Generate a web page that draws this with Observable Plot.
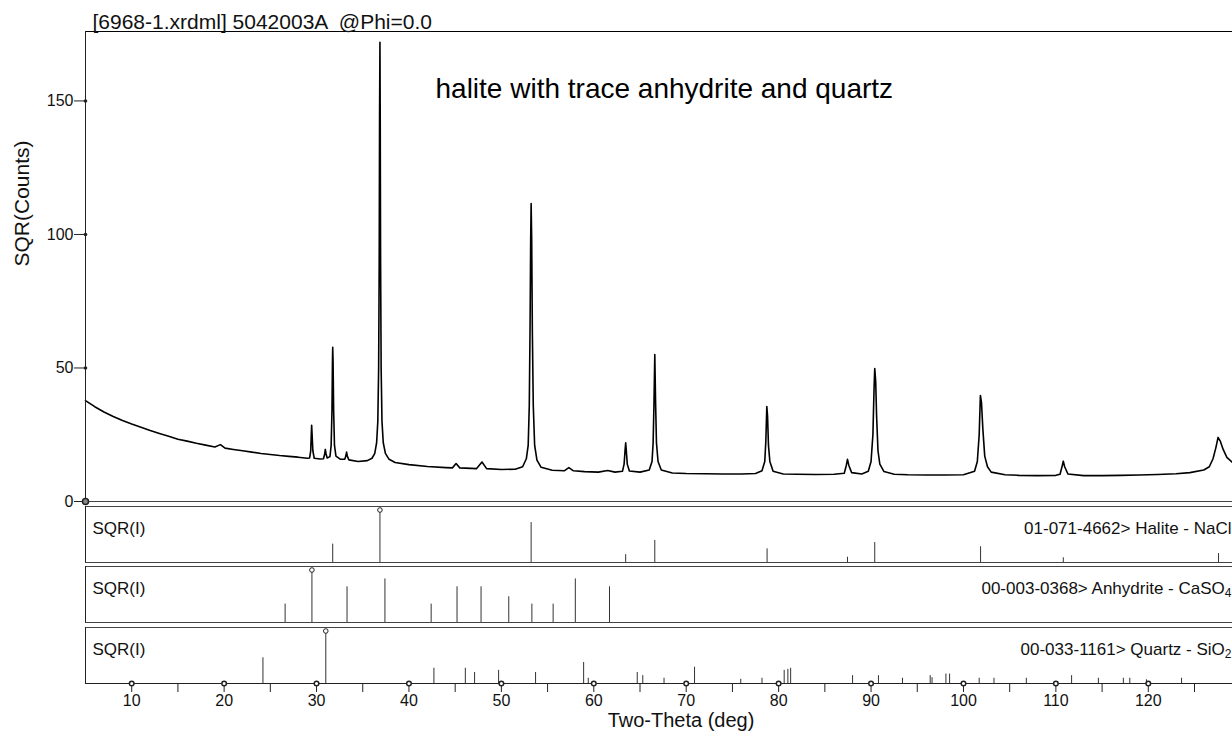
<!DOCTYPE html>
<html><head><meta charset="utf-8">
<script src="https://cdn.jsdelivr.net/npm/d3@7"></script>
<script src="https://cdn.jsdelivr.net/npm/@observablehq/plot@0.6"></script>
<style>
html,body{margin:0;padding:0;background:#fff;}
#chart{position:relative;width:1232px;height:738px;overflow:hidden;font-family:"Liberation Sans",Arial,sans-serif;}
#chart svg{position:absolute;left:0;overflow:visible;}
</style></head><body><div id="chart"></div>
<script>
// ---------- data ----------
const titleText = "[6968-1.xrdml] 5042003A  @Phi=0.0";
const annotationText = "halite with trace anhydrite and quartz";
const yTitle = "SQR(Counts)";
const xTitle = "Two-Theta (deg)";
const yTicks = [0, 50, 100, 150];
const xTicks = [10, 15, 20, 25, 30, 35, 40, 45, 50, 55, 60, 65, 70, 75, 80, 85, 90, 95, 100, 105, 110, 115, 120, 125];
const xLabelTicks = [10, 20, 30, 40, 50, 60, 70, 80, 90, 100, 110, 120];

const twoTheta = [5,6,7,8,9,10,11,12,13,14,15,16,17,18,19,19.6,20.1,21,22,23,24,25,26,27,28,29,29.25,29.37,29.43,29.47,29.52,29.6,29.75,30.4,30.75,30.88,30.95,31.03,31.15,31.45,31.58,31.67,31.72,31.75,31.79,31.85,31.94,32.1,32.6,33.05,33.17,33.25,33.33,33.5,34.5,35.5,36,36.3,36.5,36.63,36.72,36.78,36.82,36.86,36.89,36.93,36.99,37.08,37.22,37.45,37.85,38.5,40,42,44,44.7,45.1,45.5,47.3,47.9,48.4,50,51.5,52.3,52.7,52.9,53.02,53.1,53.17,53.22,53.28,53.35,53.45,53.6,53.85,54.3,55.5,56.8,57.3,57.8,59,60.5,61.5,62.3,63.1,63.28,63.38,63.45,63.52,63.62,63.85,65,66,66.3,66.42,66.52,66.6,66.68,66.78,66.95,67.3,68.5,70,72,74,76,77.5,78.2,78.5,78.62,78.72,78.8,78.9,79.05,79.4,80.5,82,84,86,87.1,87.32,87.45,87.6,87.9,89,89.7,90,90.2,90.33,90.4,90.5,90.6,90.75,90.95,91.4,92.5,94,96,98,100,101.2,101.5,101.7,101.83,101.95,102.1,102.3,102.6,103,104.5,106,108,110,110.45,110.68,110.8,110.95,111.3,113,115,117,119,121,123,124.5,126,126.6,127,127.3,127.55,127.8,128.1,128.5,129.1];
const sqrtCounts = [37.8,35.5,33.5,31.8,30.3,29.0,27.8,26.6,25.5,24.4,23.3,22.6,21.8,21.1,20.4,21.3,20.0,19.5,19.0,18.5,18.0,17.6,17.2,16.9,16.6,16.2,16.3,19,25,28.5,25,19,16.2,15.9,16,17.8,19.5,17.8,16.3,16.8,21,34,52,57.7,52,34,21,17,15.8,15.8,17,18.5,17,15.6,15.0,15.3,16.2,18,22,30,50,90,145,172,145,90,50,30,22,18,15.8,14.6,13.8,13.1,12.7,12.6,14.2,12.6,12.3,14.8,12.3,12.0,12.1,13,16,21,36,64,98,111.6,98,64,36,21,15.5,12.8,11.7,11.5,12.7,11.5,11.2,11.0,11.6,11.0,11.3,14,19,22,19,14,11.4,11.0,11.8,15,22,38,55,38,22,15,11.8,10.7,10.5,10.4,10.3,10.3,10.5,11.5,15,23,35.6,32,21,15,11.3,10.3,10.2,10.1,10.2,10.6,13.5,15.8,13.5,10.8,10.3,11.3,15,25,43,49.8,45,32,19,14,11.2,10.2,10.0,9.9,9.9,10.0,11.3,15,25,39.7,37,27,17,13,11,10,9.8,9.7,9.8,10.2,13.3,15.1,13,10.3,9.7,9.7,9.8,9.9,10.1,10.4,10.8,11.8,13,16,20,24,22.5,19.5,16.5,14.6];

// reference patterns (stick positions in deg, SQR(I) in %)
const haliteTheta = [31.75, 36.86, 53.22, 63.45, 66.6, 78.75, 87.45, 90.4, 101.85, 110.8, 127.6];
const haliteI     = [35, 100, 76, 15, 42, 26, 10, 38, 30, 9, 17];
const anhydriteTheta = [26.6, 29.5, 33.3, 37.4, 42.4, 45.2, 47.8, 50.8, 53.3, 55.6, 58.0, 61.7];
const anhydriteI     = [35, 100, 68, 83, 35, 68, 68, 49, 35, 35, 83, 68];
const quartzTheta = [24.2, 31.0, 42.7, 46.1, 47.1, 49.7, 53.7, 58.9, 59.4, 64.7, 65.3, 67.6, 70.9, 75.9, 78.2, 80.6, 81.0, 81.3, 88.0, 90.8, 93.4, 96.4, 96.6, 98.1, 98.5, 101.7, 103.3, 106.8, 111.7, 114.6, 117.3, 118.0, 119.8, 123.6];
const quartzI     = [49, 100, 29, 29, 21, 25, 21, 40, 10, 21, 15, 10, 31, 8, 10, 25, 27, 29, 15, 15, 10, 15, 11, 18, 18, 10, 10, 10, 15, 10, 10, 10, 7, 10];
const panelLabels = [
  {name: "01-071-4662> Halite - NaCl", sub: ""},
  {name: "00-003-0368> Anhydrite - CaSO", sub: "4"},
  {name: "00-033-1161> Quartz - SiO", sub: "2"}
];

// ---------- layout ----------
const FONT = "'Liberation Sans', Arial, Helvetica, sans-serif";
const W = 1232, ML = 85;
const X_DOMAIN = [5, 129.11];
const root = document.getElementById("chart");

function place(svg, top) { svg.style.top = top + "px"; root.appendChild(svg); }

const pattern = twoTheta.map((t, i) => ({t, c: sqrtCounts[i]}));

const main = Plot.plot({
  width: W, height: 505, marginLeft: ML, marginRight: 0, marginTop: 31, marginBottom: 4,
  style: {fontFamily: FONT, fontSize: "16px", color: "#111", background: "transparent", overflow: "visible"},
  x: {domain: X_DOMAIN, axis: null},
  y: {domain: [0, 176], axis: null},
  marks: [
    Plot.line(pattern, {x: "t", y: "c", stroke: "#000", strokeWidth: 1.6}),
    Plot.frame({anchor: "top", stroke: "#000"}),
    Plot.frame({anchor: "left", stroke: "#222"}),
    Plot.frame({anchor: "bottom", stroke: "#444"}),
    Plot.axisY({ticks: yTicks, tickSize: 11, tickPadding: 1, fontSize: 16, label: null, stroke: "#222"}),
    Plot.dot(yTicks.slice(1), {x: X_DOMAIN[0], y: d => d, r: 1.8, fill: "#222"}),
    Plot.dot(yTicks.slice(0, 1), {x: X_DOMAIN[0], y: d => d, r: 3, stroke: "#222", fill: "#888"}),
    Plot.text([yTitle], {frameAnchor: "left", dx: -63, rotate: -90, fontSize: 21, fill: "#111"}),
    Plot.text([annotationText], {frameAnchor: "top-left", dx: 350, dy: 47, fontSize: 28, textAnchor: "start", fill: "#000"}),
    Plot.text([titleText], {frameAnchor: "top-left", dx: 7, dy: -3, lineAnchor: "bottom", fontSize: 21, textAnchor: "start", fill: "#111"})
  ]
});
place(main, 0);

function sticksPanel(theta, inten, lab, height, withAxis) {
  const d = theta.map((t, i) => ({t, v: inten[i]}));
  const marks = [
    Plot.frame({anchor: "top", stroke: "#444"}),
    Plot.frame({anchor: "left", stroke: "#222"}),
    Plot.frame({anchor: "bottom", stroke: withAxis ? "#222" : "#444"}),
    Plot.ruleX(d, {x: "t", y1: 0, y2: "v", stroke: "#333", strokeWidth: 1}),
    Plot.dot(d.filter(e => e.v === 100), {x: "t", y: "v", r: 2.3, stroke: "#222", fill: "#fff", strokeWidth: 1}),
    Plot.text(["SQR(I)"], {frameAnchor: "top-left", dx: 7, dy: 15, fontSize: 17, textAnchor: "start", fill: "#111"}),
    Plot.text([lab.name], {frameAnchor: "top-right", dx: -1, dy: 15, fontSize: 17, textAnchor: "end", fill: "#111"})
  ];
  if (withAxis) {
    marks.push(
      Plot.axisX({ticks: xTicks, tickSize: 9, tickPadding: 2, fontSize: 16, label: null,
                  tickFormat: v => xLabelTicks.includes(v) ? String(v) : "", stroke: "#222"}),
      Plot.dot(xLabelTicks, {x: v => v, y: 0, r: 2.3, stroke: "#222", fill: "#fff"}),
      Plot.text([xTitle], {frameAnchor: "bottom", dx: 22, dy: 43, fontSize: 20, fill: "#111"})
    );
  }
  const svg = Plot.plot({
    width: W, height: height + (withAxis ? 55 : 0), marginLeft: ML, marginRight: 0, marginTop: 0,
    marginBottom: withAxis ? 55 : 0,
    style: {fontFamily: FONT, fontSize: "16px", color: "#111", background: "transparent", overflow: "visible"},
    x: {domain: X_DOMAIN, axis: null},
    y: {domain: [0, 100 * height / (height - 3.5)], axis: null},
    marks
  });
  if (lab.sub) {
    svg.querySelectorAll("text").forEach(t => {
      if (t.textContent === lab.name) {
        const s = document.createElementNS("http://www.w3.org/2000/svg", "tspan");
        s.setAttribute("dy", "0.3em");
        s.setAttribute("font-size", "12");
        s.textContent = lab.sub;
        t.appendChild(s);
      }
    });
  }
  return svg;
}
place(sticksPanel(haliteTheta, haliteI, panelLabels[0], 56, false), 506);
place(sticksPanel(anhydriteTheta, anhydriteI, panelLabels[1], 56, false), 566);
place(sticksPanel(quartzTheta, quartzI, panelLabels[2], 56, true), 627);
</script></body></html>
